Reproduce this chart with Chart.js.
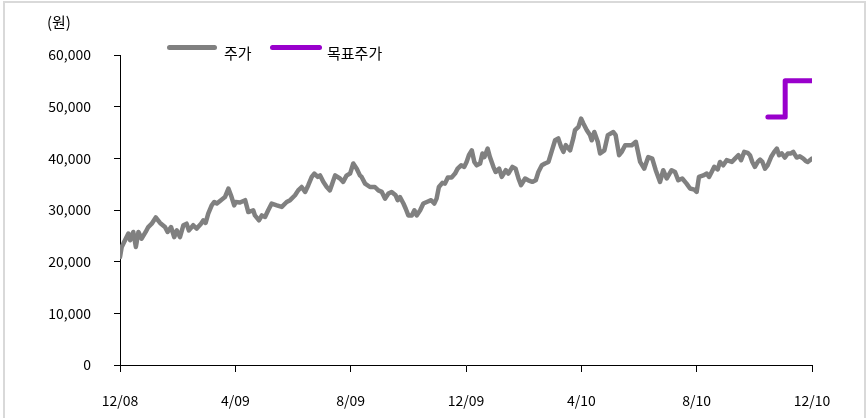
<!DOCTYPE html>
<html>
<head>
<meta charset="utf-8">
<script src="https://cdn.jsdelivr.net/npm/chart.js@4"></script>
<style>
body { margin: 0; background: #fff; }
#wrap { position: relative; width: 868px; height: 418px; }
.lbl { position: absolute; font-family: "Noto Sans CJK KR", "Noto Sans", sans-serif; font-size: 15px; color: #000; line-height: 1; white-space: nowrap; }
.key { position: absolute; height: 5px; border-radius: 3px; }
</style>
</head>
<body>
<div id="wrap">
  <canvas id="chart_stockPrice" width="868" height="418"></canvas>
  <div class="lbl" style="left:47px;top:14px">(원)</div>
  <div class="key" style="left:167px;top:45px;width:50px;background:#808080"></div>
  <div class="lbl" style="left:224px;top:45px">주가</div>
  <div class="key" style="left:270px;top:45px;width:52px;background:#9900cc"></div>
  <div class="lbl" style="left:327px;top:45px">목표주가</div>
</div>
<script>
// x = months since 12/08
var xTickLabels = ['12/08', '4/09', '8/09', '12/09', '4/10', '8/10', '12/10'];

var priceMonths = [
  0, 0.06, 0.29, 0.35, 0.46, 0.55, 0.64, 0.75, 0.89, 0.98,
  1.10, 1.24, 1.39, 1.56, 1.65, 1.77, 1.88, 1.97, 2.08, 2.20,
  2.31, 2.39, 2.54, 2.66, 2.81, 2.89, 2.97, 3.06, 3.18, 3.27,
  3.36, 3.50, 3.64, 3.76, 3.87, 3.96, 4.01, 4.16,
  4.34, 4.45, 4.62, 4.68, 4.82, 4.92, 5.03, 5.14, 5.26, 5.44,
  5.61, 5.78, 5.90, 6.07, 6.18, 6.30, 6.42, 6.53, 6.65, 6.74,
  6.86, 6.94, 7.05, 7.17, 7.28, 7.36, 7.46, 7.63, 7.74, 7.86,
  7.98, 8.09, 8.21, 8.32,
  8.38, 8.50, 8.67, 8.84, 8.96, 9.08, 9.19, 9.31, 9.42, 9.56,
  9.63, 9.71, 9.83, 9.91, 10.00, 10.12, 10.21, 10.29, 10.41, 10.52,
  10.64, 10.79, 10.90, 10.98, 11.06, 11.18, 11.27, 11.37, 11.50, 11.62,
  11.71, 11.83, 11.94, 12.02, 12.10, 12.20, 12.29,
  12.37, 12.49, 12.57, 12.64, 12.75, 12.83, 12.95, 13.03, 13.15, 13.24,
  13.38, 13.47, 13.61, 13.72, 13.82, 13.91, 14.05, 14.16, 14.30, 14.42,
  14.51, 14.63, 14.74, 14.86, 14.95, 15.09, 15.20, 15.30, 15.38, 15.46,
  15.61, 15.72, 15.78, 15.90, 15.99, 16.07, 16.19, 16.30, 16.36, 16.45,
  16.57, 16.65,
  16.80, 16.92, 17.11, 17.19, 17.31, 17.40, 17.52, 17.63, 17.75, 17.89,
  18.04, 18.18, 18.32, 18.46, 18.58, 18.73, 18.84, 18.96, 19.13, 19.25,
  19.36, 19.50, 19.65, 19.77, 19.92, 20.00, 20.08, 20.23, 20.35, 20.43,
  20.52, 20.61, 20.73,
  20.81, 20.92, 21.04, 21.22, 21.33, 21.45, 21.54, 21.65, 21.77, 21.85,
  21.93, 22.02, 22.12, 22.20, 22.28, 22.37, 22.46, 22.58, 22.69, 22.78,
  22.86, 22.95, 23.06, 23.16, 23.27, 23.35, 23.47, 23.58, 23.70, 23.78,
  23.85, 24.00
];

var prices = [
  20900, 22850, 25450, 24150, 25750, 22850, 25750, 24450, 25750, 26700,
  27350, 28550, 27500, 26700, 25750, 26700, 24750, 26050, 24750, 27050,
  27350, 26050, 27050, 26400, 27350, 28000, 27500, 29300, 30900, 31550,
  31250, 31900, 32500, 34150, 32500, 30900, 31550, 31450,
  31900, 29600, 29950, 28950, 28000, 28950, 28650, 29950, 31250, 30900,
  30600, 31550, 31900, 32850, 33800, 34450, 33500, 34800, 36400, 37050,
  36400, 36700, 35450, 34450, 33800, 35100, 36700, 36100, 35450, 36700,
  37050, 39000, 38000, 36700,
  36400, 35100, 34450, 34450, 33800, 33500, 32200, 33200, 33500, 32850,
  31900, 32500, 31250, 30250, 28950, 28950, 29950, 28950, 29950, 31250,
  31550, 31900, 31250, 32200, 34450, 35250, 35100, 36300, 36300, 37050,
  38000, 38650, 38350, 39300, 40600, 41550, 39300,
  38650, 39000, 40950, 40250, 41900, 40250, 38350, 37350, 38000, 36400,
  37700, 37050, 38350, 38000, 36100, 34800, 36100, 35750, 35450, 35750,
  37350, 38650, 39000, 39300, 40950, 43500, 43850, 42200, 41250, 42550,
  41550, 43850, 45450, 46100, 47700, 46750, 45450, 44500, 43500, 45100,
  43200, 40950,
  41550, 44500, 45100, 44500, 40600, 41250, 42550, 42550, 42550, 43200,
  39300, 38000, 40250, 39950, 37700, 35450, 37700, 36100, 37700, 37350,
  35750, 36100, 35100, 34150, 33950, 33500, 36400, 36700, 37050, 36400,
  37350, 38350, 37850,
  39300, 38650, 39650, 39300, 39950, 40600, 39650, 41250, 41050, 40600,
  39300, 38350, 39300, 39750, 39300, 38000, 38650, 40250, 41250, 41900,
  40600, 40950, 40150, 40950, 40950, 41250, 40150, 40400, 39950, 39500,
  39300, 39950
];

var targetMonths = [22.47, 23.07, 24.00];
var targetPrices = [48000, 55000, 55000];

function toPoints(xs, ys) {
  return xs.map(function (x, i) { return { x: x, y: ys[i] }; });
}

var tickFont = { family: '"Noto Sans CJK KR", "Noto Sans", sans-serif', size: 14 };

var chart_stockPrice = new Chart(document.getElementById('chart_stockPrice'), {
    type: 'line',
    data: {
        datasets: [
            {
                label: '주가',
                data: toPoints(priceMonths, prices),
                borderColor: '#808080',
                borderWidth: 4.5,
                borderJoinStyle: 'round',
                borderCapStyle: 'round',
                pointRadius: 0,
                tension: 0
            },
            {
                label: '목표주가',
                data: toPoints(targetMonths, targetPrices),
                borderColor: '#9900cc',
                borderWidth: 5,
                borderCapStyle: 'round',
                borderJoinStyle: 'round',
                stepped: 'before',
                pointRadius: 0
            }
        ]
    },
    options: {
        animation: false,
        responsive: false,
        layout: {
            padding: { left: 0, right: 56, top: 55, bottom: 0 }
        },
        plugins: {
            legend: { display: false },
            tooltip: { enabled: false }
        },
        scales: {
            x: {
                type: 'linear',
                min: 0,
                max: 24,
                afterFit: function (scale) { scale.height = 53; },
                afterBuildTicks: function (scale) {
                    scale.ticks = xTickLabels.map(function (l, i) { return { value: i * 4 }; });
                },
                ticks: {
                    color: '#000',
                    font: tickFont,
                    padding: 20,
                    maxRotation: 0,
                    autoSkip: false,
                    callback: function (value) { return xTickLabels[value / 4]; }
                },
                grid: { drawOnChartArea: false, drawTicks: true, tickLength: 7, color: '#000' },
                border: { display: true, color: '#000', width: 1 }
            },
            y: {
                min: 0,
                max: 60000,
                afterFit: function (scale) { scale.width = 120; },
                ticks: {
                    stepSize: 10000,
                    color: '#000',
                    font: tickFont,
                    padding: 23,
                    callback: function (value) { return value.toLocaleString('en-US'); }
                },
                grid: { drawOnChartArea: false, drawTicks: true, tickLength: 6, color: '#000' },
                border: { display: true, color: '#000', width: 1 }
            }
        }
    },
    plugins: [{
        id: 'customPlugin',
        beforeDraw: (chart, args, options) => {
            const ctx = chart.canvas.getContext('2d');
            ctx.save();
            ctx.globalCompositeOperation = 'destination-over';
            ctx.fillStyle = 'white';
            ctx.fillRect(0, 0, chart.canvas.width, chart.canvas.height);
            ctx.restore();
        },
        afterDraw: (chart) => {
            const ctx = chart.ctx;
            ctx.save();
            ctx.strokeStyle = '#d9d9d9';
            ctx.lineWidth = 2;
            ctx.strokeRect(4, 2, 861, 430);
            ctx.restore();
        }
    }]
});
</script>
</body>
</html>
